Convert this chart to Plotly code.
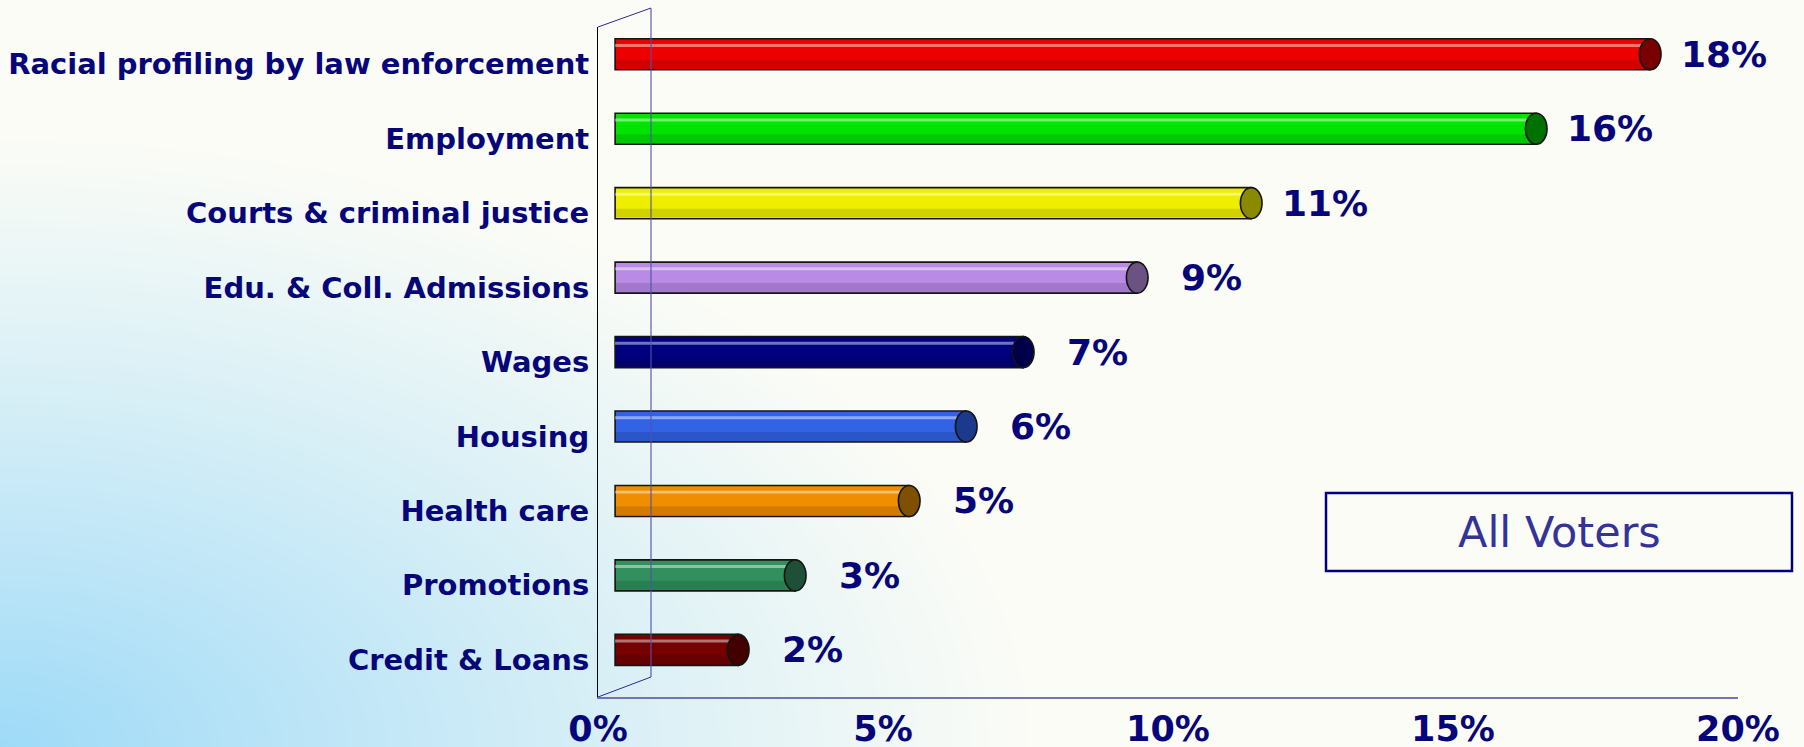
import numpy as np
import plotly.graph_objects as go

# data
categories = ["Racial profiling by law enforcement", "Employment", "Courts & criminal justice",
              "Edu. & Coll. Admissions", "Wages", "Housing", "Health care", "Promotions",
              "Credit & Loans"]
values = [18, 16, 11, 9, 7, 6, 5, 3, 2]
bar_colors = ["#ee0000", "#00e400", "#eeee00", "#b98ae6", "#00007e", "#3262e6", "#ee8e00",
              "#31905e", "#760000"]
cap_colors = ["#7a0000", "#007000", "#8a8a00", "#6a5282", "#00004a", "#1c3a8c", "#7e5000",
              "#1e5038", "#420000"]
x_ticks = [0, 5, 10, 15, 20]
x_tick_labels = ["0%", "5%", "10%", "15%", "20%"]
box_label = "All Voters"

W, H = 1804, 747
NAVY = "#06067a"

# plot frame in pixels (front plane), plus the fake 3D depth
left_px, right_px, top_px, bottom_px = 598, 1738, 27, 697
depth_dx, depth_dy = 53, 20
bar_start = 0.3       # left end of cylinders (%)
cap_shift = 0.16      # cylinder axis end sits at value + bar_start + cap_shift
bar_w = 0.417
bar_off = -0.342      # bars float a little above the category centre
cap_half = 0.19


def px(x):
    return x / W


def py(y):
    return 1 - y / H


fig = go.Figure()

# gradient background (light blue from the bottom-left corner)
gx = np.linspace(0, W, 120)
gy = np.linspace(0, H, 60)
XX, YY = np.meshgrid(gx, gy)
t = 1 - np.sqrt((XX / 1050) ** 2 + ((H - YY) / 620) ** 2)
t = np.clip(t, 0, 1) ** 1.1
fig.add_trace(go.Heatmap(x=gx, y=gy, z=t, zmin=0, zmax=1, zsmooth="best", showscale=False,
                         colorscale=[[0, "#fcfcf6"], [1, "#9edaf7"]], hoverinfo="skip",
                         xaxis="x", yaxis="y"))

lengths = [v + cap_shift for v in values]

# cylinder bodies
fig.add_trace(go.Bar(y=categories, x=lengths, base=bar_start, orientation="h",
                     width=bar_w, offset=bar_off,
                     marker=dict(color=bar_colors, line=dict(color="#141414", width=1.6)),
                     xaxis="x2", yaxis="y2", hoverinfo="skip"))
# highlight and shade stripes
fig.add_trace(go.Bar(y=categories, x=lengths, base=bar_start, orientation="h",
                     width=0.04, offset=bar_off + 0.07,
                     marker=dict(color="rgba(255,255,255,0.45)", line=dict(width=0)),
                     xaxis="x2", yaxis="y2", hoverinfo="skip"))
fig.add_trace(go.Bar(y=categories, x=lengths, base=bar_start, orientation="h",
                     width=0.12, offset=bar_off + bar_w - 0.135,
                     marker=dict(color="rgba(0,0,0,0.12)", line=dict(width=0)),
                     xaxis="x2", yaxis="y2", hoverinfo="skip"))

shapes = []
annotations = []
for i, (cat, v) in enumerate(zip(categories, values)):
    end = bar_start + v + cap_shift
    shapes.append(dict(type="circle", xref="x2", yref="y2",
                       x0=end - cap_half, x1=end + cap_half,
                       y0=i + bar_off, y1=i + bar_off + bar_w,
                       fillcolor=cap_colors[i], line=dict(color="#141414", width=1.6),
                       layer="above"))
    annotations.append(dict(xref="x2", yref="y2", x=end + 1.3, y=cat, yshift=10,
                            text=f"{v}%", showarrow=False, xanchor="center",
                            font=dict(family="DejaVu Sans", size=36, color=NAVY,
                                      weight="bold")))

# 3D frame lines
bx = left_px + depth_dx
shapes += [
    dict(type="line", xref="paper", yref="paper", x0=px(left_px), y0=py(top_px),
         x1=px(bx), y1=py(top_px - depth_dy + 1), line=dict(color="#2a2a96", width=1)),
    dict(type="line", xref="paper", yref="paper", x0=px(bx), y0=py(top_px - depth_dy + 1),
         x1=px(bx), y1=py(bottom_px - depth_dy), line=dict(color="rgba(80,80,175,0.75)", width=1.5),
         layer="above"),
    dict(type="line", xref="paper", yref="paper", x0=px(left_px), y0=py(bottom_px),
         x1=px(bx), y1=py(bottom_px - depth_dy), line=dict(color="#2a2a96", width=1)),
    dict(type="rect", xref="paper", yref="paper", x0=px(1326), y0=py(571), x1=px(1792),
         y1=py(493), line=dict(color="#00007e", width=2.5)),
]
annotations.append(dict(xref="paper", yref="paper", x=px(1559), y=py(532), text=box_label,
                        showarrow=False, xanchor="center", yanchor="middle",
                        font=dict(family="DejaVu Sans", size=43, color="#333399")))

fig.update_layout(
    width=W, height=H, autosize=False,
    margin=dict(l=0, r=0, t=0, b=0, autoexpand=False),
    paper_bgcolor="#fcfcf6", plot_bgcolor="rgba(0,0,0,0)",
    showlegend=False, barmode="overlay",
    xaxis=dict(domain=[0, 1], range=[0, W], visible=False, fixedrange=True, automargin=False),
    yaxis=dict(domain=[0, 1], range=[H, 0], visible=False, fixedrange=True, automargin=False),
    xaxis2=dict(domain=[px(left_px), px(right_px)], range=[0, 20], anchor="y2",
                tickvals=x_ticks, ticktext=x_tick_labels, showgrid=False, zeroline=False,
                showline=True, linecolor="#7474b4", linewidth=2, ticks="",
                ticklabelstandoff=0, automargin=False,
                tickfont=dict(family="DejaVu Sans", size=35, color=NAVY, weight="bold")),
    yaxis2=dict(domain=[py(bottom_px), py(top_px)], anchor="x2", type="category",
                categoryorder="array", categoryarray=categories, range=[8.5, -0.5],
                showgrid=False, zeroline=False, showline=True, linecolor="#000000",
                linewidth=1, ticks="", ticklabelstandoff=2, automargin=False,
                tickfont=dict(family="DejaVu Sans", size=29, color=NAVY, weight="bold")),
    shapes=shapes, annotations=annotations,
)

fig.write_html("out.html", config={"displayModeBar": False},
               post_script="document.body.style.margin = '0px';")
